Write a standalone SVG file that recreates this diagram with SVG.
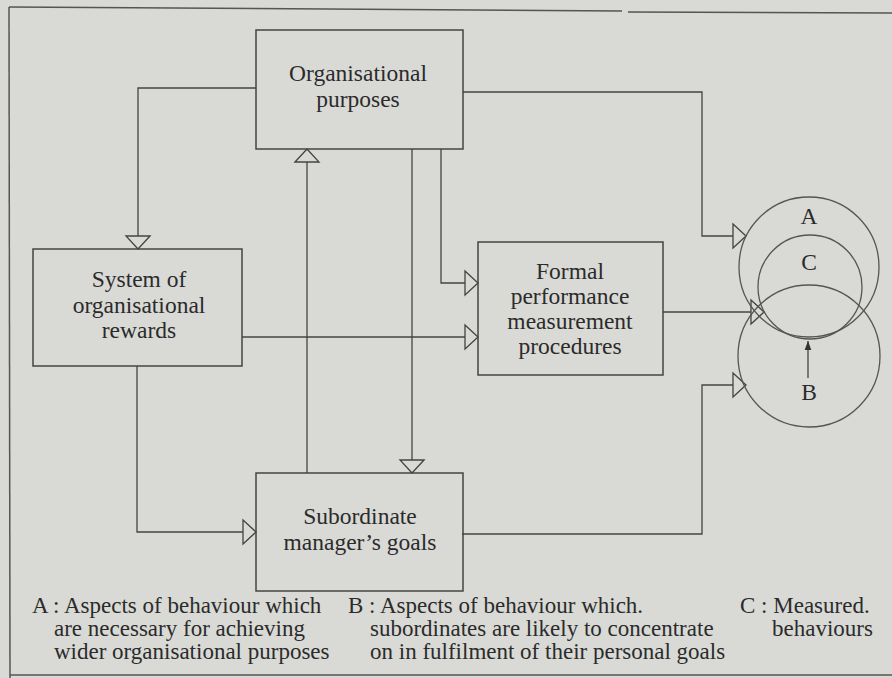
<svg xmlns="http://www.w3.org/2000/svg" width="892" height="678" viewBox="0 0 892 678">
<style>
.bg{fill:#d9dad6}
.frame{fill:none;stroke:#555;stroke-width:1.5}
.box{fill:none;stroke:#444;stroke-width:1.5}
.ln{fill:none;stroke:#444;stroke-width:1.3}
.t{font-family:"Liberation Serif","Times New Roman",serif;font-size:23.5px;fill:#2b2b2b;text-anchor:middle}
.lg{font-family:"Liberation Serif","Times New Roman",serif;font-size:23px;fill:#2b2b2b}
.circ{fill:none;stroke:#555;stroke-width:1.3}
</style>
<defs>
<marker id="tri" markerUnits="userSpaceOnUse" markerWidth="16" markerHeight="28" viewBox="-1 -13 16 26" refX="13" refY="0" orient="auto">
<path d="M0,-12 L13,0 L0,12 Z" fill="#d9dad6" stroke="#444" stroke-width="1.3"/>
</marker>
<marker id="solid" markerUnits="userSpaceOnUse" markerWidth="10" markerHeight="10" viewBox="0 -4 9 8" refX="8" refY="0" orient="auto">
<path d="M0,-3 L8,0 L0,3 Z" fill="#333"/>
</marker>
</defs>
<rect class="bg" x="0" y="0" width="892" height="678"/>
<g id="frame">
<path class="frame" d="M9,7 L622,11 M628,12 L892,13"/>
<path class="frame" d="M9,7 L10,678"/>
<path class="frame" d="M10,675 L892,675"/>
</g>
<g id="connectors">
<path class="ln" d="M256,88 H138 V249" marker-end="url(#tri)"/>
<path class="ln" d="M463,92 H702 V236 H746" marker-end="url(#tri)"/>
<path class="ln" d="M441,149 V283 H478" marker-end="url(#tri)"/>
<path class="ln" d="M412,149 V473" marker-end="url(#tri)"/>
<path class="ln" d="M307,473 V149" marker-end="url(#tri)"/>
<path class="ln" d="M242,337 H478" marker-end="url(#tri)"/>
<path class="ln" d="M137,366 V532 H256" marker-end="url(#tri)"/>
<path class="ln" d="M462,534 H702 V385 H746" marker-end="url(#tri)"/>
<path class="ln" d="M663,312 H764" marker-end="url(#tri)"/>
<path class="ln" d="M808,378 V341" marker-end="url(#solid)"/>
</g>
<g id="org-purposes">
<rect class="box" x="256" y="30" width="207" height="119"/>
<text class="t" x="358" y="81">Organisational</text>
<text class="t" x="358" y="107">purposes</text>
</g>
<g id="system-rewards">
<rect class="box" x="33" y="249" width="209" height="117"/>
<text class="t" x="139" y="287">System of</text>
<text class="t" x="139" y="313">organisational</text>
<text class="t" x="139" y="338">rewards</text>
</g>
<g id="formal-procedures">
<rect class="box" x="478" y="242" width="185" height="133"/>
<text class="t" x="570" y="279">Formal</text>
<text class="t" x="570" y="304">performance</text>
<text class="t" x="570" y="329">measurement</text>
<text class="t" x="570" y="354">procedures</text>
</g>
<g id="subordinate-goals">
<rect class="box" x="256" y="473" width="207" height="118"/>
<text class="t" x="360" y="524">Subordinate</text>
<text class="t" x="360" y="550">manager’s goals</text>
</g>
<g id="circles">
<circle class="circ" cx="809" cy="267" r="70"/>
<circle class="circ" cx="810" cy="287" r="52"/>
<circle class="circ" cx="809" cy="356" r="71"/>
<text class="t" x="809" y="224">A</text>
<text class="t" x="809" y="270">C</text>
<text class="t" x="809" y="400">B</text>
</g>
<g id="legend">
<text class="lg" x="32" y="613">A : Aspects of behaviour which</text>
<text class="lg" x="54" y="636">are necessary for achieving</text>
<text class="lg" x="54" y="659">wider organisational purposes</text>
<text class="lg" x="348" y="613">B : Aspects of behaviour which.</text>
<text class="lg" x="370" y="636">subordinates are likely to concentrate</text>
<text class="lg" x="370" y="659">on in fulfilment of their personal goals</text>
<text class="lg" x="740" y="613">C : Measured.</text>
<text class="lg" x="772" y="636">behaviours</text>
</g>
</svg>
